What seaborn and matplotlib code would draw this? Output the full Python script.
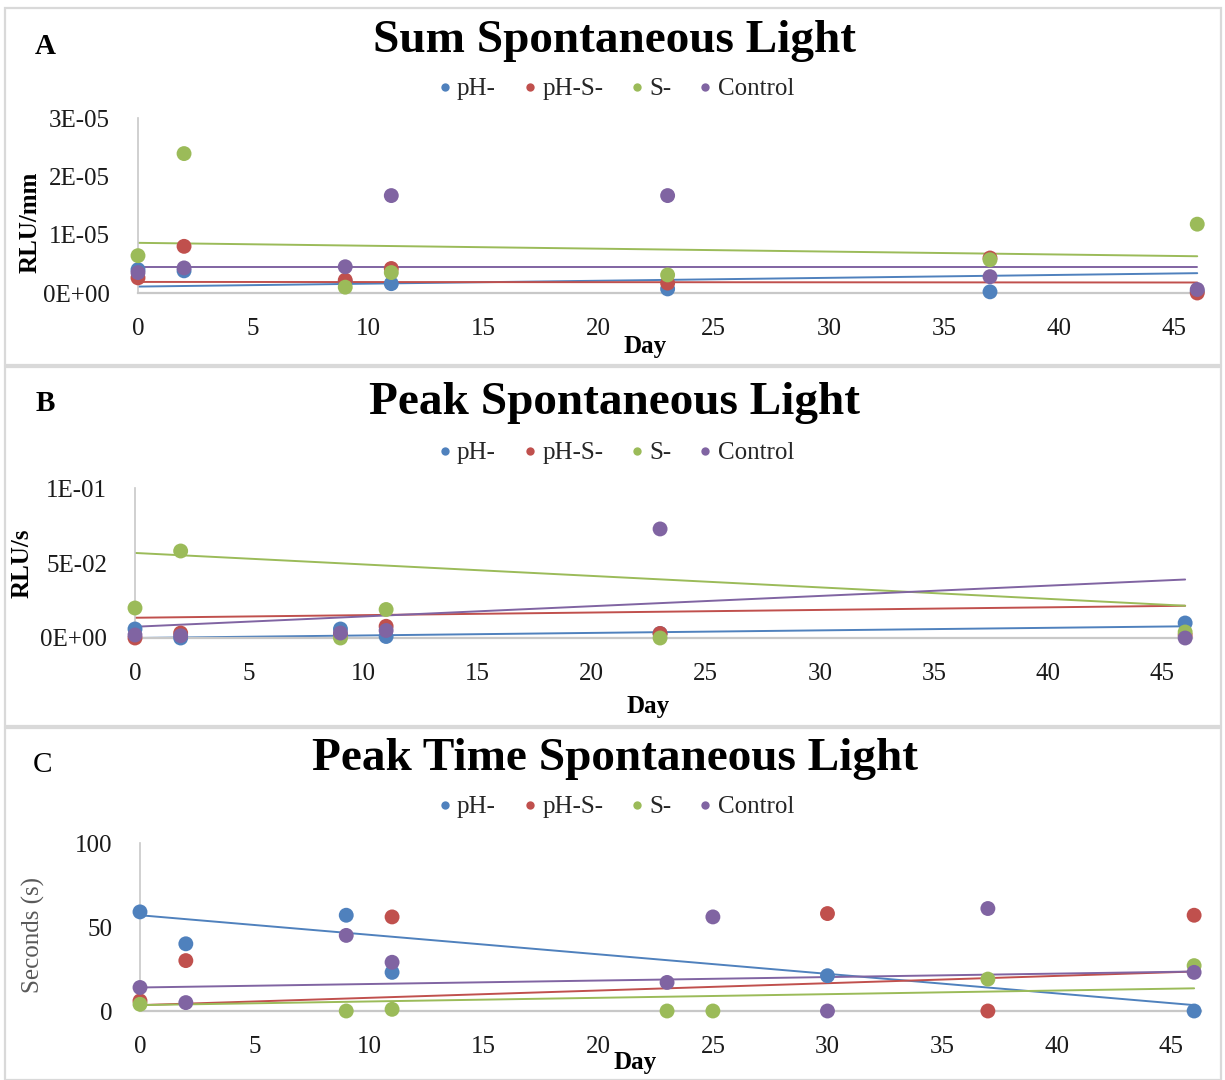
import numpy as np
import pandas as pd
import matplotlib
matplotlib.use("Agg")
import matplotlib.pyplot as plt
import seaborn as sns
from matplotlib.lines import Line2D
from matplotlib.patches import Rectangle
from matplotlib.ticker import FuncFormatter

# -----------------------------
# Data
# -----------------------------
series = ["pH-", "pH-S-", "S-", "Control"]
colors = ["#4F81BD", "#C0504D", "#9BBB59", "#8064A2"]

# Panel A: Sum Spontaneous Light (RLU/mm)
days_a = [0, 2, 9, 11, 23, 37, 46]
sum_ph = [0.40e-5, 0.38e-5, 0.19e-5, 0.16e-5, 0.07e-5, 0.02e-5, 0.03e-5]
sum_phs = [0.26e-5, 0.80e-5, 0.22e-5, 0.42e-5, 0.17e-5, 0.60e-5, 0.0]
sum_s = [0.64e-5, 2.39e-5, 0.10e-5, 0.35e-5, 0.31e-5, 0.57e-5, 1.18e-5]
sum_ctrl = [0.35e-5, 0.43e-5, 0.45e-5, 1.67e-5, 1.67e-5, 0.28e-5, 0.06e-5]
sum_trend_start = [0.11e-5, 0.19e-5, 0.86e-5, 0.45e-5]
sum_trend_end = [0.34e-5, 0.18e-5, 0.63e-5, 0.45e-5]

# Panel B: Peak Spontaneous Light (RLU/s)
days_b = [0, 2, 9, 11, 23, 46]
peak_ph = [0.006, 0.0, 0.006, 0.001, 0.003, 0.010]
peak_phs = [0.0, 0.0033, 0.002, 0.0078, 0.003, 0.002]
peak_s = [0.020, 0.058, 0.0, 0.019, 0.0, 0.004]
peak_ctrl = [0.002, 0.0015, 0.0033, 0.005, 0.0727, 0.0]
peak_trend_start = [0.0, 0.0135, 0.0567, 0.0075]
peak_trend_end = [0.0078, 0.0215, 0.0215, 0.039]

# Panel C: Peak Time Spontaneous Light (s)
days_c = [0, 2, 9, 11, 23, 25, 30, 37, 46]
time_ph = [59, 40, 57, 23, np.nan, np.nan, 21, np.nan, 0]
time_phs = [6, 30, np.nan, 56, np.nan, np.nan, 58, 0, 57]
time_s = [4, np.nan, 0, 1, 0, 0, np.nan, 19, 27]
time_ctrl = [14, 5, 45, 29, 17, 56, 0, 61, 23]
time_trend_start = [57, 3.5, 3.5, 14]
time_trend_end = [3.5, 23.5, 13.5, 23.5]


def long_form(days, values):
    df = pd.DataFrame({"Day": days})
    for name, vals in zip(series, values):
        df[name] = vals
    return df.melt(id_vars="Day", var_name="Series", value_name="Value").dropna()


# -----------------------------
# Figure setup
# -----------------------------
sns.set_theme(style="white")
plt.rcParams["font.family"] = ["Liberation Serif", "DejaVu Serif"]

W, H = 1225, 1080
fig = plt.figure(figsize=(W / 100, H / 100), dpi=100)
palette = dict(zip(series, colors))

panels = [
    dict(letter="A", title="Sum Spontaneous Light", ylabel="RLU/mm",
         data=long_form(days_a, [sum_ph, sum_phs, sum_s, sum_ctrl]),
         t0=sum_trend_start, t1=sum_trend_end, days=days_a,
         ylim=(0, 3e-5), yticks=[0, 1e-5, 2e-5, 3e-5], sci=True,
         box=(5, 8, 1221, 365), ax_px=(138, 118, 1203, 293), xmax=46.25,
         title_y=41, leg_y=89, letter_xy=(45, 46), ylab=(30, 222), day_xy=(645, 347),
         ylab_bold=True, letter_bold=True),
    dict(letter="B", title="Peak Spontaneous Light", ylabel="RLU/s",
         data=long_form(days_b, [peak_ph, peak_phs, peak_s, peak_ctrl]),
         t0=peak_trend_start, t1=peak_trend_end, days=days_b,
         ylim=(0, 0.1), yticks=[0, 0.05, 0.1], sci=True,
         box=(5, 367, 1221, 726), ax_px=(135, 488, 1192, 638), xmax=46.3,
         title_y=403, leg_y=453, letter_xy=(45, 403), ylab=(22, 563), day_xy=(648, 706),
         ylab_bold=True, letter_bold=True),
    dict(letter="C", title="Peak Time Spontaneous Light", ylabel="Seconds (s)",
         data=long_form(days_c, [time_ph, time_phs, time_s, time_ctrl]),
         t0=time_trend_start, t1=time_trend_end, days=days_c,
         ylim=(0, 100), yticks=[0, 50, 100], sci=False,
         box=(5, 728, 1221, 1080), ax_px=(140, 843, 1201, 1011), xmax=46.3,
         title_y=759, leg_y=807, letter_xy=(42, 765), ylab=(33, 935), day_xy=(635, 1062),
         ylab_bold=False, letter_bold=False),
]

for p in panels:
    # panel frame
    x0, y0, x1, y1 = p["box"]
    fig.patches.append(Rectangle((x0 / W, 1 - y1 / H), (x1 - x0) / W, (y1 - y0) / H,
                                 transform=fig.transFigure, fill=False,
                                 edgecolor="#d9d9d9", linewidth=1.6))

    l, t, r, b = p["ax_px"]
    ax = fig.add_axes([l / W, 1 - b / H, (r - l) / W, (b - t) / H])
    ax.set_facecolor("none")

    # trend lines
    for name, c, a0, a1 in zip(series, colors, p["t0"], p["t1"]):
        ax.plot([min(p["days"]), max(p["days"])], [a0, a1], color=c, lw=1.4, zorder=2)

    sns.scatterplot(data=p["data"], x="Day", y="Value", hue="Series", palette=palette,
                    hue_order=series, s=115, edgecolor="none", legend=False, ax=ax, zorder=3)

    ax.set_xlim(0, p["xmax"])
    ax.set_ylim(*p["ylim"])
    ax.set_xticks(range(0, 50, 5))
    ax.set_yticks(p["yticks"])
    if p["sci"]:
        ax.yaxis.set_major_formatter(FuncFormatter(lambda v, pos: "%.0E" % v))
    ax.tick_params(axis="both", length=0, labelsize=18, colors="#1a1a1a")
    ax.tick_params(axis="x", pad=18)
    ax.tick_params(axis="y", pad=20)
    ax.set_xlabel("")
    ax.set_ylabel("")
    for side in ["top", "right"]:
        ax.spines[side].set_visible(False)
    ax.spines["left"].set_color("#c8c8c8")
    ax.spines["bottom"].set_color("#c8c8c8")
    ax.spines["left"].set_linewidth(1.2)
    ax.spines["bottom"].set_linewidth(1.6)
    for coll in ax.collections:
        coll.set_clip_on(False)

    # texts
    fig.text(0.502, 1 - p["title_y"] / H, p["title"], ha="center", va="center",
             fontsize=34, fontweight="bold", color="black")
    lx, ly = p["letter_xy"]
    fig.text(lx / W, 1 - ly / H, p["letter"], ha="center", va="center", fontsize=21,
             fontweight="bold" if p["letter_bold"] else "normal", color="black")
    yx, yy = p["ylab"]
    fig.text(yx / W, 1 - yy / H, p["ylabel"], rotation=90,
             ha="center", va="center", fontsize=18,
             fontweight="bold" if p["ylab_bold"] else "normal",
             color="black" if p["ylab_bold"] else "#595959")
    dx, dy = p["day_xy"]
    fig.text(dx / W, 1 - dy / H, "Day", ha="center", va="center", fontsize=18,
             fontweight="bold", color="black")

    handles = [Line2D([], [], marker="o", linestyle="none", markersize=6,
                      markerfacecolor=c, markeredgecolor="none") for c in colors]
    fig.legend(handles, series, loc="center", bbox_to_anchor=(0.502, 1 - p["leg_y"] / H),
               ncol=4, frameon=False, fontsize=18, handletextpad=0.15,
               columnspacing=1.0, handlelength=0.7)

fig.savefig("out.png", dpi=100)
